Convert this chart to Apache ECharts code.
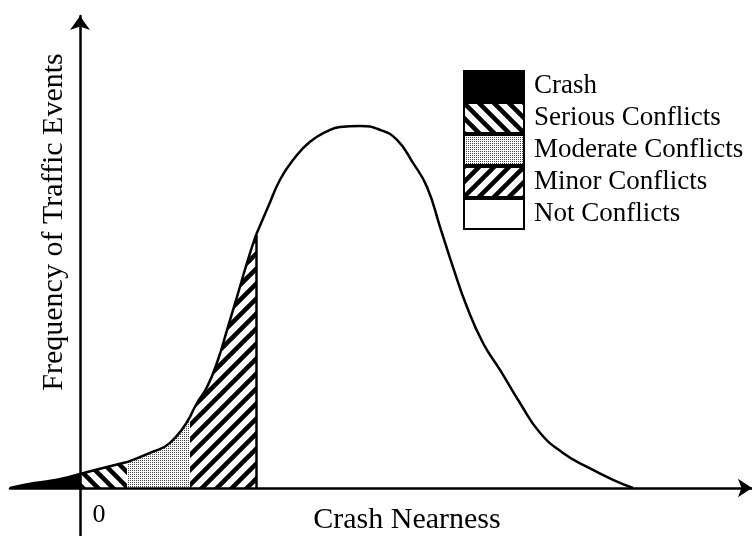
<!DOCTYPE html>
<html>
<head>
<meta charset="utf-8">
<script src="https://cdn.jsdelivr.net/npm/echarts@6/dist/echarts.min.js"></script>
<style>
    html, body { margin: 0; padding: 0; background: #fff; }
    #chart { width: 752px; height: 536px; }
</style>
</head>
<body>
<div id="chart"></div>
<script>
// curve, one piece per region: [crash nearness, frequency]
const crash = [[-7, 0], [-4.7, 1.0], [-2.3, 1.7], [0, 2.9]];
const serious = [[0, 2.9], [2, 4.0], [4.7, 5.4]];
const moderate = [[4.7, 5.4], [7, 7.3], [9, 9.4], [11, 14.8]];
const minor = [[11, 14.8], [11.7, 17.7], [12.7, 21.0], [13.8, 26.7], [14.7, 32.9], [15.7, 39.8], [16.7, 46.9], [17.6, 52.7]];
const notConflicts = [
    [17.6, 52.7], [18.8, 58.5], [20, 64.2], [21.3, 68.3], [23, 72.1], [25, 74.6], [26, 75.2],
    [28, 75.4], [30, 74.6], [31.7, 72.5], [33.3, 67.7], [34.7, 62.7], [36, 54.4], [37.3, 46.0],
    [38.7, 37.7], [40.3, 30.2], [42, 24.6], [44, 17.7], [46, 11.5], [48.3, 7.3], [50.7, 4.4],
    [53.3, 1.7], [55.3, 0]
];
const names = ['Crash', 'Serious Conflicts', 'Moderate Conflicts', 'Minor Conflicts', 'Not Conflicts'];
const xTickLabels = [0];

const font = 'Liberation Serif';

// hatch tile, '/' or '\'
function stripes(dir) {
    const size = 15;
    const c = document.createElement('canvas');
    c.width = c.height = size;
    const g = c.getContext('2d');
    g.fillStyle = '#fff';
    g.fillRect(0, 0, size, size);
    g.strokeStyle = '#000';
    g.lineWidth = 4.5;
    g.beginPath();
    for (const k of [-size, 0, size]) {
        if (dir === '/') {
            g.moveTo(k - 3, size + 3);
            g.lineTo(k + size + 3, -3);
        } else {
            g.moveTo(k - 3, -3);
            g.lineTo(k + size + 3, size + 3);
        }
    }
    g.stroke();
    return { image: c, repeat: 'repeat' };
}

function dots() {
    const c = document.createElement('canvas');
    c.width = c.height = 2;
    const g = c.getContext('2d');
    g.fillStyle = '#fff';
    g.fillRect(0, 0, 2, 2);
    g.fillStyle = '#444';
    g.fillRect(0, 0, 1, 1);
    return { image: c, repeat: 'repeat' };
}

const fills = ['#000', stripes('\\'), dots(), stripes('/'), '#fff'];
const pieces = [crash, serious, moderate, minor, notConflicts];

function region(i) {
    return {
        name: names[i],
        type: 'line',
        data: pieces[i],
        smooth: 0.5,
        showSymbol: false,
        silent: true,
        lineStyle: { color: '#000', width: 2.5 },
        areaStyle: { color: fills[i], opacity: 1 },
        z: 2
    };
}

const series = pieces.map((p, i) => region(i));
// solid edge where the minor conflicts end
const edge = minor[minor.length - 1];
series[3].markLine = {
    symbol: 'none',
    silent: true,
    label: { show: false },
    lineStyle: { color: '#000', width: 2.5, type: 'solid' },
    data: [[{ coord: [edge[0], 0] }, { coord: edge }]]
};

const chart = echarts.init(document.getElementById('chart'));
chart.setOption({
    animation: false,
    grid: { left: 10, right: 0, top: 16, bottom: 0, outerBoundsMode: 'none' },
    legend: {
        orient: 'vertical',
        left: 463,
        top: 70,
        padding: 0,
        icon: 'rect',
        itemWidth: 60,
        itemHeight: 30,
        itemGap: 0,
        selectedMode: false,
        textStyle: { fontFamily: font, fontSize: 27, lineHeight: 30, color: '#000', padding: [0, 0, 0, 5] },
        data: names.map((n, i) => ({
            name: n,
            itemStyle: { color: fills[i], borderColor: '#000', borderWidth: 2 }
        }))
    },
    // labels and names sit on the grid edge, so gaps are counted from there
    xAxis: {
        type: 'value',
        min: -7,
        max: 67.2,
        interval: 7,
        z: 5,
        splitLine: { show: false },
        axisTick: { show: false },
        axisLine: {
            onZero: true,
            symbol: ['none', 'arrow'],
            symbolSize: [14, 14],
            lineStyle: { color: '#000', width: 2.5 }
        },
        axisLabel: {
            formatter: v => (xTickLabels.indexOf(v) >= 0 ? String(v) : ''),
            color: '#000',
            fontFamily: font,
            fontSize: 26,
            margin: -34,
            padding: [0, 0, 0, 38]
        },
        name: 'Crash Nearness',
        nameLocation: 'middle',
        nameGap: -31,
        nameMoveOverlap: false,
        nameTextStyle: { fontFamily: font, fontSize: 30, color: '#000', padding: [0, 0, 0, 52] }
    },
    yAxis: {
        type: 'value',
        min: -10,
        max: 98.3,
        z: 5,
        splitLine: { show: false },
        axisTick: { show: false },
        axisLabel: { show: false },
        axisLine: {
            onZero: true,
            symbol: ['none', 'arrow'],
            symbolSize: [15, 14],
            lineStyle: { color: '#000', width: 2.5 }
        },
        name: 'Frequency of Traffic Events',
        nameLocation: 'middle',
        nameGap: -59,
        nameMoveOverlap: false,
        nameTextStyle: { fontFamily: font, fontSize: 30, color: '#000', padding: [0, 0, 0, 108] }
    },
    series: series
});
</script>
</body>
</html>
